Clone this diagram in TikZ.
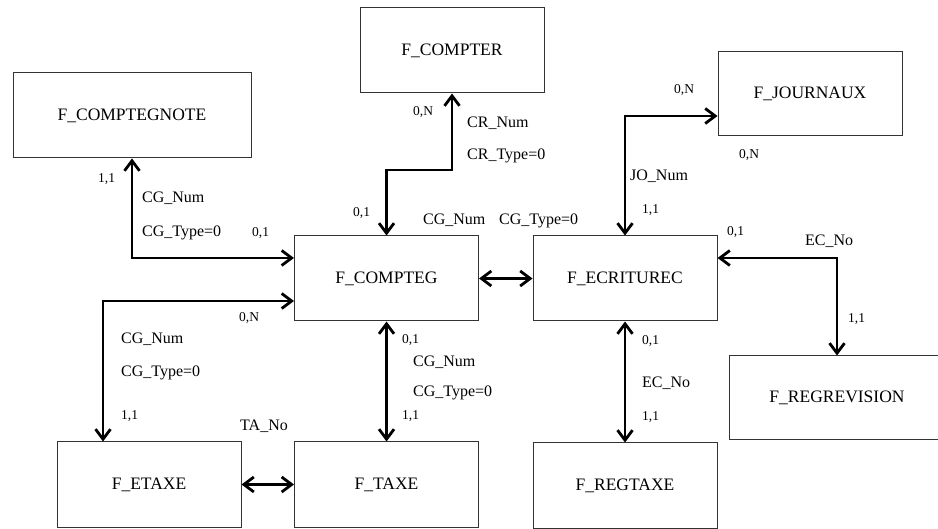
\documentclass[tikz,border=0pt]{standalone}
\usepackage{fontspec}
\setmainfont{Liberation Serif}
\usetikzlibrary{arrows.meta,positioning}
\definecolor{boxline}{HTML}{333333}
\definecolor{ink}{HTML}{000000}

\begin{document}
\begin{tikzpicture}[x=1pt,y=-1pt,
  entity/.style={draw=boxline,line width=1pt,minimum width=184pt,minimum height=85pt,inner sep=0pt,font=\fontsize{17.5}{20}\selectfont},
  conn/.style={{Straight Barb[length=10pt,width=15pt]}-{Straight Barb[length=10pt,width=15pt]},line width=2.8pt,ink},
  attr/.style={anchor=base west,inner sep=0pt,font=\fontsize{16}{18}\selectfont},
  card/.style={anchor=base west,inner sep=0pt,font=\fontsize{13.5}{15}\selectfont}]
\useasboundingbox (0,0) rectangle (938,529);
% entities
\node[entity,minimum width=238pt] (cgnote) at (132,115.5) {F\_COMPTEGNOTE};
\node[entity] (compter) at (452,50.5) {F\_COMPTER};
\node[entity,minimum height=84pt] (journaux) at (810,94) {F\_JOURNAUX};
\node[entity] (compteg) at (386.5,278.5) {F\_COMPTEG};
\node[entity] (ecriture) at (625,278.5) {F\_ECRITUREC};
\node[entity,minimum width=216pt,minimum height=84pt] (regrev) at (837,398) {F\_REGREVISION};
\node[entity] (etaxe) at (149,484.5) {F\_ETAXE};
\node[entity] (taxe) at (386.5,484.5) {F\_TAXE};
\node[entity] (regtaxe) at (625,485.5) {F\_REGTAXE};
% links
\draw[conn] (cgnote.south) |- ([yshift=20.5pt]compteg.west);
\draw[conn] (compter.south) -- (compter.south |- 0,170) -- (compteg.north |- 0,170) -- (compteg.north);
\draw[conn] (ecriture.north) |- ([yshift=-22pt]journaux.west);
\draw[conn] ([yshift=20.5pt]ecriture.east) -| (regrev.north);
\draw[conn] ([yshift=-22.5pt]compteg.west) -| ([xshift=-46pt]etaxe.north);
\foreach \a/\b in {compteg.east/ecriture.west,etaxe.east/taxe.west,compteg.south/taxe.north,ecriture.south/regtaxe.north}{\draw[conn](\a)--(\b);}
% role labels
\node[attr] (a1) at (142,203) {CG\_Num};
\node[attr] (a2) at (142,237) {CG\_Type=0};
\node[attr] (a3) at (467,128) {CR\_Num};
\node[attr] (a4) at (467,160) {CR\_Type=0};
\node[attr] (a5) at (423,225) {CG\_Num};
\node[attr] (a6) at (499,225) {CG\_Type=0};
\node[attr] (a7) at (630,181) {JO\_Num};
\node[attr] (a8) at (805,246) {EC\_No};
\node[attr] (a9) at (642,388) {EC\_No};
\node[attr] (a10) at (121,344) {CG\_Num};
\node[attr] (a11) at (121,377) {CG\_Type=0};
\node[attr] (a12) at (240,431) {TA\_No};
\node[attr] (a13) at (413,367) {CG\_Num};
\node[attr] (a14) at (413,397) {CG\_Type=0};
% cardinalities
\node[card] (c1) at (98,183) {1,1};
\node[card] (c2) at (252,237) {0,1};
\node[card] (c3) at (413,116) {0,N};
\node[card] (c4) at (353,217) {0,1};
\node[card] (c5) at (674,94) {0,N};
\node[card] (c6) at (739,159) {0,N};
\node[card] (c7) at (642,214) {1,1};
\node[card] (c8) at (727,236) {0,1};
\node[card] (c9) at (848,323) {1,1};
\node[card] (c10) at (642,345) {0,1};
\node[card] (c11) at (642,421) {1,1};
\node[card] (c12) at (239,322) {0,N};
\node[card] (c13) at (121,420) {1,1};
\node[card] (c14) at (402,344) {0,1};
\node[card] (c15) at (402,420) {1,1};
\end{tikzpicture}
\end{document}
